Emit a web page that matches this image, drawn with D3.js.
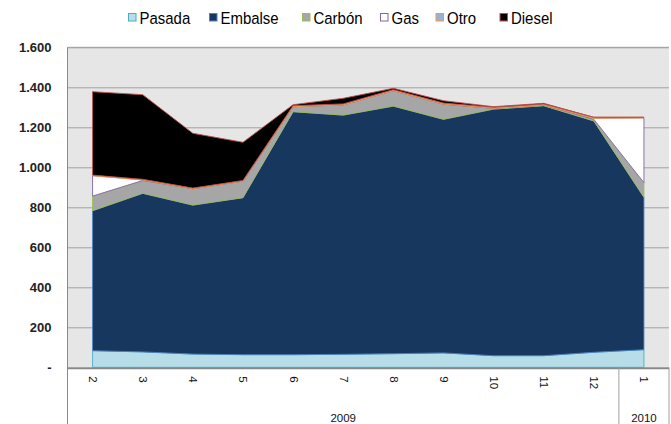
<!DOCTYPE html>
<html>
<head>
<meta charset="utf-8">
<script src="https://cdn.jsdelivr.net/npm/d3@7"></script>
<style>
  html, body { margin: 0; padding: 0; background: #fff; }
  svg { display: block; }
  .legend text { font-family: "Liberation Sans", Arial, sans-serif; font-size: 17px; fill: #000; }
  .yaxis text { font-family: "Liberation Sans", Arial, sans-serif; font-size: 13px; font-weight: bold; fill: #222; }
  .xaxis text, .years text { font-family: "Liberation Sans", Arial, sans-serif; font-size: 11.5px; fill: #111; }
</style>
</head>
<body>
<svg id="chart" width="671" height="424"></svg>
<script>
// Monthly generation by source (GWh), Feb 2009 – Jan 2010
const months = ["2", "3", "4", "5", "6", "7", "8", "9", "10", "11", "12", "1"];
const yearLabels = ["2009", "2010"];
const yearSpans = [11, 1];

const pasada  = [83, 77, 66, 63, 63, 65, 68, 72, 58, 58, 75, 88];
const embalse = [700, 793, 745, 785, 1215, 1196, 1238, 1168, 1233, 1250, 1157, 762];
const carbon  = [73, 64, 82, 83, 25, 51, 77, 76, 4, 3, 8, 73];
const gas     = [102, 3, 0, 0, 0, 0, 0, 0, 0, 0, 5, 324];
const otro    = [3, 3, 3, 3, 5, 5, 5, 5, 5, 5, 5, 3];
const diesel  = [417, 423, 274, 191, 5, 28, 7, 12, 3, 4, 0, 0];

const seriesNames = ["Pasada", "Embalse", "Carbón", "Gas", "Otro", "Diesel"];
const seriesValues = [pasada, embalse, carbon, gas, otro, diesel];
const fills   = ["#B7DEE8", "#17375E", "#A6A6A6", "#FFFFFF", "#95B3D7", "#000000"];
const strokes = ["#4BACC6", "#4F81BD", "#9BBB59", "#8064A2", "#F79646", "#C0504D"];

const yTicks = [0, 200, 400, 600, 800, 1000, 1200, 1400, 1600];

const svg = d3.select("#chart");
const plot = { left: 67.5, right: 669, top: 47.3, bottom: 367.3 };

const rows = months.map((m, i) => {
  const r = { i };
  seriesNames.forEach((s, k) => { r[s] = seriesValues[k][i]; });
  return r;
});

const x = d3.scalePoint()
  .domain(d3.range(months.length))
  .range([plot.left, plot.right])
  .padding(0.5);
const step = x.step();

const y = d3.scaleLinear().domain([0, 1600]).range([plot.bottom, plot.top]);

const locale = d3.formatLocale({ decimal: ",", thousands: ".", grouping: [3], currency: ["$", ""] });
const fmt = locale.format(",d");

// plot background
svg.append("rect")
  .attr("x", plot.left).attr("y", plot.top)
  .attr("width", plot.right - plot.left).attr("height", plot.bottom - plot.top)
  .attr("fill", "#E6E6E6");

// horizontal gridlines
svg.append("g")
  .attr("class", "grid")
  .attr("transform", `translate(${plot.left},0)`)
  .call(d3.axisLeft(y).tickValues(yTicks.slice(1)).tickSize(-(plot.right - plot.left)).tickFormat(""))
  .call(g => g.select(".domain").remove())
  .call(g => g.selectAll("line").attr("stroke", "#A0A0A0").attr("stroke-width", 1));

// stacked areas
const stack = d3.stack().keys(seriesNames);
const layers = stack(rows);

const area = d3.area()
  .x(d => x(d.data.i))
  .y0(d => y(d[0]))
  .y1(d => y(d[1]));

svg.append("g")
  .selectAll("path")
  .data(layers)
  .join("path")
  .attr("d", area)
  .attr("fill", (d, k) => fills[k])
  .attr("stroke", (d, k) => strokes[k])
  .attr("stroke-width", 0.9)
  .attr("stroke-linejoin", "round");

// plot frame
svg.append("line")
  .attr("x1", plot.left).attr("x2", plot.right)
  .attr("y1", plot.top).attr("y2", plot.top)
  .attr("stroke", "#A0A0A0");
svg.append("line")
  .attr("x1", plot.left).attr("x2", plot.left)
  .attr("y1", plot.top).attr("y2", 424)
  .attr("stroke", "#8A8A8A");

// y axis labels
svg.append("g")
  .attr("class", "yaxis")
  .attr("transform", `translate(${plot.left},0)`)
  .call(d3.axisLeft(y).tickValues(yTicks).tickSize(0).tickPadding(16)
    .tickFormat(v => v === 0 ? "-" : fmt(v)))
  .call(g => g.select(".domain").remove());

// x axis: month labels
svg.append("g")
  .attr("class", "xaxis")
  .attr("transform", `translate(0,${plot.bottom})`)
  .call(d3.axisBottom(x).tickSize(0).tickFormat(i => months[i]))
  .call(g => g.select(".domain").remove())
  .call(g => g.selectAll("text")
    .attr("transform", "rotate(90)")
    .attr("x", 9).attr("y", 0)
    .attr("dy", "0.35em")
    .style("text-anchor", "start"));

// axis baseline
svg.append("line")
  .attr("x1", plot.left).attr("x2", plot.right)
  .attr("y1", plot.bottom + 1).attr("y2", plot.bottom + 1)
  .attr("stroke", "#888").attr("stroke-width", 2);

// year groups
const yearsG = svg.append("g").attr("class", "years");
let startIdx = 0;
yearLabels.forEach((lab, k) => {
  const endIdx = startIdx + yearSpans[k] - 1;
  const x0 = x(startIdx) - step / 2;
  const x1 = x(endIdx) + step / 2;
  yearsG.append("text")
    .attr("x", (x0 + x1) / 2)
    .attr("y", 421.5)
    .attr("text-anchor", "middle")
    .text(lab);
  yearsG.append("line")
    .attr("x1", x1).attr("x2", x1)
    .attr("y1", plot.bottom).attr("y2", 424)
    .attr("stroke", "#A0A0A0");
  startIdx = endIdx + 1;
});

// legend (condensed text via horizontal scaling)
const legendX = [128.5, 209.5, 302.5, 380.5, 436, 500];
const legend = svg.append("g").attr("class", "legend");
seriesNames.forEach((s, k) => {
  const g = legend.append("g").attr("transform", `translate(${legendX[k]},0)`);
  g.append("rect")
    .attr("x", 0).attr("y", 13.5)
    .attr("width", 7.5).attr("height", 7.5)
    .attr("fill", fills[k])
    .attr("stroke", strokes[k])
    .attr("stroke-width", 1);
  g.append("text")
    .attr("transform", "translate(11,24) scale(0.88,1)")
    .text(s);
});
</script>
</body>
</html>
